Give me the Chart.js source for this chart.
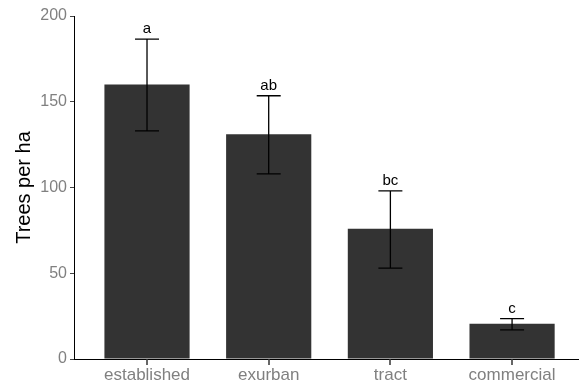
<!DOCTYPE html>
<html>
<head>
<meta charset="utf-8">
<script src="https://cdn.jsdelivr.net/npm/chart.js@4/dist/chart.umd.min.js"></script>
<style>
  html, body { margin: 0; padding: 0; background: #fff; }
  #wrap { width: 579px; height: 388px; }
</style>
</head>
<body>
<div id="wrap"><canvas id="trees"></canvas></div>
<script>
// data
var categories = ['established', 'exurban', 'tract', 'commercial'];
var treesPerHa = [160, 131, 76, 20.5];
var errUpper = [186.5, 153.5, 98, 23.5];
var errLower = [133, 108, 53, 17];
var groupLetters = ['a', 'ab', 'bc', 'c'];
var yTicks = [0, 50, 100, 150, 200];

var fontFam = '"Liberation Sans", Arial, sans-serif';

// error bars + significance letters, plus the small x tick marks
var errorBars = {
    id: 'errorBars',
    afterDraw: function(chart) {
        var ctx = chart.ctx;
        var xs = chart.scales.x, ys = chart.scales.y;
        var area = chart.chartArea;
        ctx.save();
        ctx.strokeStyle = '#000';
        ctx.lineWidth = 1.3;
        ctx.fillStyle = '#000';
        ctx.font = '15px ' + fontFam;
        ctx.textAlign = 'center';
        ctx.textBaseline = 'alphabetic';
        for (var i = 0; i < categories.length; i++) {
            var x = xs.getPixelForValue(i + 1);
            var top = ys.getPixelForValue(errUpper[i]);
            var bot = ys.getPixelForValue(errLower[i]);
            var cap = 12;
            ctx.beginPath();
            ctx.moveTo(x, top); ctx.lineTo(x, bot);
            ctx.moveTo(x - cap, top); ctx.lineTo(x + cap, top);
            ctx.moveTo(x - cap, bot); ctx.lineTo(x + cap, bot);
            ctx.stroke();
            ctx.fillText(groupLetters[i], x, top - 6);
        }
        // x axis tick marks
        ctx.strokeStyle = '#333';
        ctx.lineWidth = 1.5;
        for (var j = 0; j < categories.length; j++) {
            var tx = Math.round(xs.getPixelForValue(j + 1));
            ctx.beginPath();
            ctx.moveTo(tx, area.bottom);
            ctx.lineTo(tx, area.bottom + 6);
            ctx.stroke();
        }
        ctx.restore();
    }
};

document.addEventListener('DOMContentLoaded', function() {
    var ctx = document.getElementById('trees').getContext('2d');

    var barData = categories.map(function(c, i) {
        return { x: i + 1, y: treesPerHa[i] };
    });

    new Chart(ctx, {
        type: 'bar',
        data: {
            datasets: [{
                data: barData,
                backgroundColor: '#333333',
                borderWidth: 0,
                categoryPercentage: 1,
                barPercentage: 0.7
            }]
        },
        options: {
            responsive: true,
            maintainAspectRatio: false,
            animation: false,
            layout: { padding: { top: 16, right: 0, left: 0, bottom: 0 } },
            plugins: {
                legend: { display: false },
                tooltip: { enabled: false }
            },
            scales: {
                x: {
                    type: 'linear',
                    min: 0.4,
                    max: 4.55,
                    offset: false,
                    afterBuildTicks: function(s) {
                        s.ticks = [1, 2, 3, 4].map(function(v) { return { value: v }; });
                    },
                    afterFit: function(s) { s.height = 29; },
                    ticks: {
                        autoSkip: false,
                        maxRotation: 0,
                        padding: 6,
                        color: '#808080',
                        font: { family: fontFam, size: 17 },
                        callback: function(v) { return categories[v - 1]; }
                    },
                    grid: { display: false, drawTicks: false },
                    border: { display: true, color: '#000', width: 1 }
                },
                y: {
                    min: 0,
                    max: 200,
                    afterBuildTicks: function(s) {
                        s.ticks = yTicks.map(function(v) { return { value: v }; });
                    },
                    afterFit: function(s) { s.width = 74; },
                    ticks: {
                        padding: 3,
                        color: '#808080',
                        font: { family: fontFam, size: 16 }
                    },
                    grid: { display: true, drawOnChartArea: false, drawTicks: true, tickLength: 4, color: '#444', tickColor: '#444' },
                    border: { display: true, color: '#000', width: 1 },
                    title: {
                        display: true,
                        text: 'Trees per ha',
                        color: '#000',
                        font: { family: fontFam, size: 20 },
                        padding: { top: 12, bottom: 0 }
                    }
                }
            }
        },
        plugins: [errorBars]
    });
});
</script>
</body>
</html>
